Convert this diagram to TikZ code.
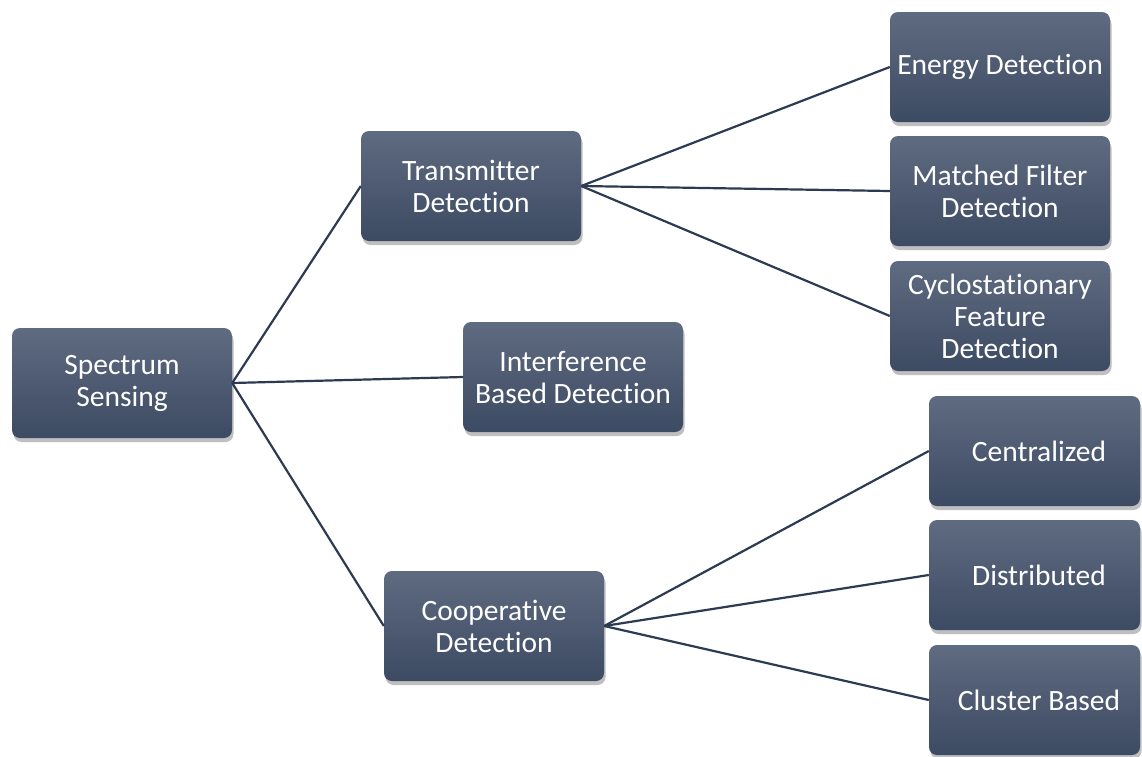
\documentclass[tikz,border=0pt]{standalone}
\usepackage{fontspec}
\setmainfont[Ligatures=NoCommon]{Carlito}
\usetikzlibrary{shadows}
\definecolor{boxtop}{HTML}{5F6B80}
\definecolor{boxbot}{HTML}{3C4A63}
\definecolor{linkcol}{HTML}{2D3B52}
\tikzset{
  box/.style={rectangle, rounded corners=8pt, minimum width=220pt, minimum height=110pt,
    inner sep=2pt, top color=boxtop, bottom color=boxbot, draw=none, text=white,
    align=center, font=\fontsize{29.5}{32}\selectfont,
    drop shadow={opacity=0.25, shadow xshift=1.5pt, shadow yshift=-4pt, fill=black}},
  narrowbox/.style={box, minimum width=211pt},
  link/.style={draw=linkcol, line width=2.2pt}
}
% right-column labels sit a little right of their box centre
\newcommand{\rlabel}[1]{\hspace*{9pt}#1}
\begin{document}
\begin{tikzpicture}[x=1pt,y=-1pt]
  \useasboundingbox (0,0) rectangle (1142,756);
  % root and first level
  \node[box] (ss) at (122,383) {Spectrum\\Sensing};
  \node[box] (td) at (471,186) {Transmitter\\Detection};
  \node[box] (ib) at (573,377) {Interference\\Based Detection};
  \node[box] (cd) at (494,626) {Cooperative\\Detection};
  % transmitter detection methods
  \node[box] (ed) at (1000,67) {Energy Detection};
  \node[box] (mf) at (1000,191) {Matched Filter\\Detection};
  \node[box] (cf) at (1000,316) {Cyclostationary\\Feature\\Detection};
  % cooperative schemes
  \node[narrowbox] (ce) at (1034.5,451) {\rlabel{Centralized}};
  \node[narrowbox] (di) at (1034.5,575) {\rlabel{Distributed}};
  \node[narrowbox] (cb) at (1034.5,700) {\rlabel{Cluster Based}};
  % connectors
  \draw[link] (ss.east) -- (td.west);
  \draw[link] (ss.east) -- (ib.west);
  \draw[link] (ss.east) -- (cd.west);
  \draw[link] (td.east) -- (ed.west);
  \draw[link] (td.east) -- (mf.west);
  \draw[link] (td.east) -- (cf.west);
  \draw[link] (cd.east) -- (ce.west);
  \draw[link] (cd.east) -- (di.west);
  \draw[link] (cd.east) -- (cb.west);
\end{tikzpicture}
\end{document}
